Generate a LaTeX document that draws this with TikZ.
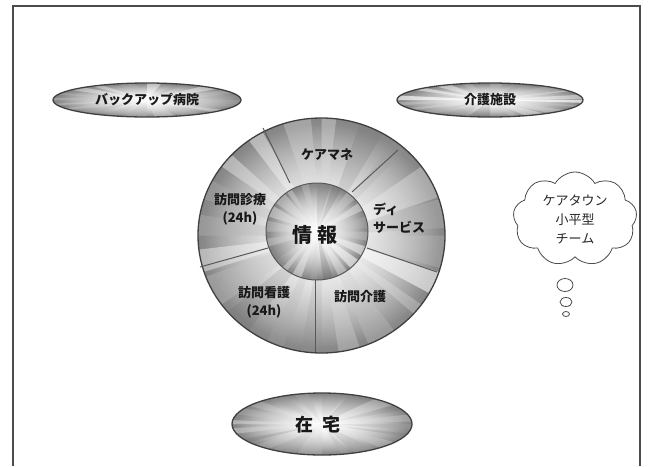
\documentclass[tikz,border=0pt]{standalone}
\usepackage{fontspec}
\newfontfamily\jp{Noto Sans CJK JP}
\usetikzlibrary{shapes.geometric,shapes.symbols,fadings}
\tikzfading[name=glow, inner color=transparent!0, outer color=transparent!100]
\newcommand\myburst[5]{%
 \begin{scope}
  \clip (#1,#2) ellipse [x radius=#3, y radius=#4];
  \shade[inner color=black!5, outer color=black!48] (#1,#2) ellipse [x radius=#3, y radius=#4];
  \pgfmathsetseed{#5}
  \foreach \a in {0,18,...,342}{
    \pgfmathsetmacro\g{int(rnd*55)}
    \pgfmathsetmacro\w{5+rnd*12}
    \pgfmathsetmacro\o{0.3+rnd*0.4}
    \fill[black!\g, opacity=\o] (#1,#2) -- +(\a:{1.5*#3} and {1.5*#4}) -- +({\a+\w}:{1.5*#3} and {1.5*#4}) -- cycle;
  }
  \fill[white, path fading=glow, opacity=0.95] (#1,#2) ellipse [x radius={0.95*#3}, y radius={0.95*#4}];
 \end{scope}
}
\tikzset{
 lbl/.style={font=\jp\bfseries\fontsize{13}{18}\selectfont, text=black!90, align=center, inner sep=0},
 rim/.style={draw=black!75, line width=1.3pt},
 spoke/.style={draw=black!65, line width=1pt},
 bubble/.style={draw=black!70, line width=0.8pt, fill=white},
}
\begin{document}
\begin{tikzpicture}[x=1pt,y=-1pt]
\useasboundingbox (0,0) rectangle (648,466);
\fill[white] (0,0) rectangle (648,466);
% frame
\draw[line width=2.2pt, black!70] (13,466) -- (13,6) -- (640,6) -- (640,466);

% top ellipses
\myburst{147}{100}{94}{17}{11}
\draw[rim] (147,100) ellipse [x radius=94, y radius=17];
\node[lbl] (backup) at (147,100) {バックアップ病院};

\myburst{490}{100}{93}{17}{23}
\draw[rim] (490,100) ellipse [x radius=93, y radius=17];
\node[lbl] (kaigo) at (490,100) {介護施設};

% bottom ellipse
\myburst{322}{424}{90}{31}{37}
\draw[rim] (322,424) ellipse [x radius=90, y radius=31];
\node[lbl, font=\jp\bfseries\fontsize{18}{20}\selectfont] (zaitaku) at (318,425) {在\hspace{9pt}宅};

% big circle
\myburst{321.5}{235.5}{123.5}{117.5}{5}
\draw[rim] (321.5,235.5) ellipse [x radius=123.5, y radius=117.5];
\myburst{317}{231.5}{51}{48.5}{71}
\draw[spoke] (317,231.5) ellipse [x radius=51, y radius=48.5];
\coordinate (i1) at (290,183); \coordinate (o1) at (263,128);
\coordinate (i2) at (352,192); \coordinate (o2) at (398,150);
\coordinate (i3) at (367,248); \coordinate (o3) at (437,272);
\coordinate (i4) at (315,280); \coordinate (o4) at (315,352);
\coordinate (i5) at (268,248); \coordinate (o5) at (200,267);
\foreach \k in {1,...,5}{\draw[spoke] (i\k) -- (o\k);}

\node[lbl] (caremane) at (327,155) {ケアマネ};
\node[lbl, align=left, anchor=west] (day) at (373,218) {ディ\\サービス};
\node[lbl] (shinryo) at (240,209) {訪問診療\\(24h)};
\node[lbl, font=\jp\bfseries\fontsize{20}{22}\selectfont] (joho) at (315,235) {情\hspace{5pt}報};
\node[lbl] (kango) at (264,302) {訪問看護\\(24h)};
\node[lbl] (kaigoh) at (360,297) {訪問介護};

% cloud
\node[cloud, cloud puffs=9, cloud puff arc=120, aspect=1.3, draw=black!70, line width=0.8pt,
      minimum width=124pt, minimum height=94pt, inner sep=0,
      font=\jp\fontsize{13}{19}\selectfont, align=center, text=black!85] (cloud) at (575,219)
      {ケアタウン\\小平型\\チーム};
\draw[bubble] (565,285) ellipse [x radius=8, y radius=6.5];
\draw[bubble] (566,302) ellipse [x radius=6, y radius=4.5];
\draw[bubble] (566,314) ellipse [x radius=3.5, y radius=2.5];
\end{tikzpicture}
\end{document}
